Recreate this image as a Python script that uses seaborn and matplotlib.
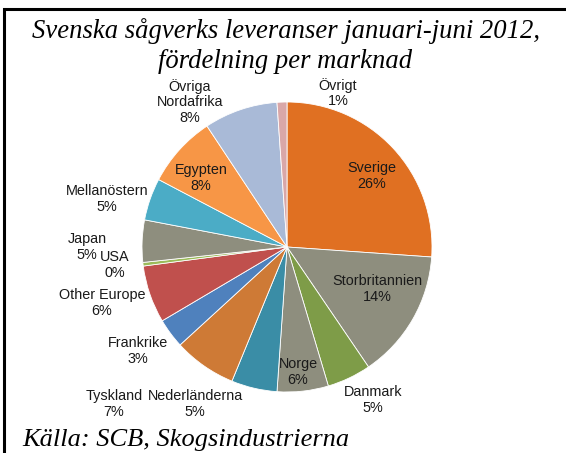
import matplotlib
matplotlib.use("Agg")
import matplotlib.pyplot as plt
import matplotlib.patches as mpatches
import seaborn as sns

sns.set_theme(style="white")
plt.rcParams['font.family'] = ['Liberation Sans', 'DejaVu Sans']

# ---- data ----
markets = ["Sverige", "Storbritannien", "Danmark", "Norge", "Nederländerna",
           "Tyskland", "Frankrike", "Other Europe", "USA", "Japan",
           "Mellanöstern", "Egypten", "Övriga\nNordafrika", "Övrigt"]
shares = [26.1, 14.4, 4.9, 5.7, 5.1, 7.0, 3.3, 6.4, 0.4, 4.7, 4.7, 8.0, 8.2, 1.1]
pct_labels = ["26%", "14%", "5%", "6%", "5%", "7%", "3%", "6%", "0%", "5%",
              "5%", "8%", "8%", "1%"]
colors = ["#E07022", "#8E8E7E", "#7E9C48", "#8E8E7E", "#3A8DA6", "#CE7A36",
          "#4F81BD", "#C0504D", "#9BBB59", "#8E8E7E", "#4BACC6", "#F79646",
          "#A9BAD7", "#D9A7A8"]
# label positions in pie-radius units (layout)
label_pos = [(0.586, 0.490), (0.621, -0.290), (0.593, -1.055), (0.076, -0.862),
             (-0.634, -1.083), (-1.193, -1.083), (-1.028, -0.717), (-1.276, -0.386),
             (-1.186, -0.124), (-1.379, 0.0), (-1.241, 0.331), (-0.593, 0.476),
             (-0.669, 1.0), (0.352, 1.062)]

W, H = 566, 453
fig = plt.figure(figsize=(W / 100, H / 100), dpi=100)
ax = fig.add_axes([0, 0, 1, 1])

cx, cy, R = 287, 206, 145  # center (px from left, px from bottom), radius px
ax.pie(shares, colors=colors, startangle=90, counterclock=False, radius=1,
       wedgeprops=dict(edgecolor="white", linewidth=0.6))
ax.set_aspect("auto")
ax.set_xlim(-cx / R, (W - cx) / R)
ax.set_ylim(-cy / R, (H - cy) / R)
ax.axis("off")

for name, pct, (x, y) in zip(markets, pct_labels, label_pos):
    ax.text(x, y, f"{name}\n{pct}", ha="center", va="center", fontsize=10.4,
            color="#1a1a1a", linespacing=1.15, family=["Liberation Sans", "DejaVu Sans"])

fig.text(285.5 / W, 1 - 46 / H,
         "Svenska sågverks leveranser januari-juni 2012,\nfördelning per marknad",
         ha="center", va="center", fontsize=19.2, style="italic",
         family=["Liberation Serif", "DejaVu Serif"], linespacing=1.22, color="black")
fig.text(22 / W, 1 - 440 / H, "Källa: SCB, Skogsindustrierna",
         ha="left", va="center", fontsize=19, style="italic",
         family=["Liberation Serif", "DejaVu Serif"], color="black")

# frame (only top and left edges visible in the crop)
frame = mpatches.Rectangle((3.5 / W, -0.5), 2, 0.5 + 1 - 8.5 / H,
                           transform=fig.transFigure, fill=False,
                           edgecolor="black", linewidth=2.2, clip_on=False)
fig.add_artist(frame)

fig.savefig("out.png", dpi=100, facecolor="white")
